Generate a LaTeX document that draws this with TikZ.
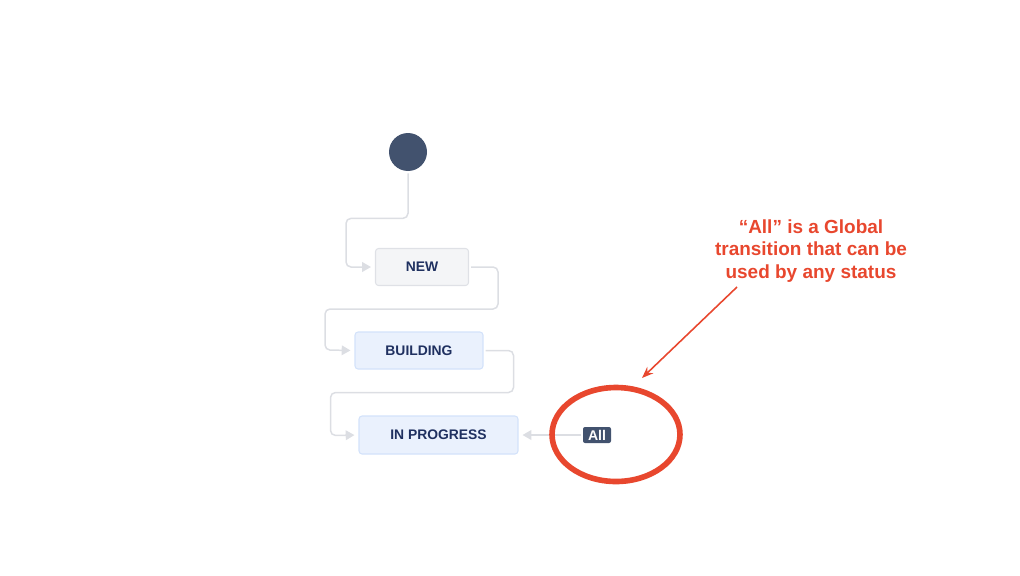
\documentclass[tikz,border=0pt]{standalone}
\usepackage{fontspec}
\setmainfont{Liberation Sans}
\usetikzlibrary{arrows.meta, shapes.geometric}
\definecolor{navy}{HTML}{1F3060}
\definecolor{slate}{HTML}{42526E}
\definecolor{wire}{HTML}{DCDEE3}
\definecolor{greyfill}{HTML}{F4F5F7}
\definecolor{greyline}{HTML}{DFE1E6}
\definecolor{bluefill}{HTML}{EAF1FD}
\definecolor{blueline}{HTML}{D3E2FA}
\definecolor{alert}{HTML}{E8472E}

\begin{document}
\begin{tikzpicture}[x=0.02cm, y=-0.02cm,
  status/.style={rectangle, rounded corners=0.06cm, line width=0.6pt,
    minimum height=0.74cm, inner sep=0pt, text=navy,
    font=\fontsize{7.9}{9}\selectfont\bfseries},
  link/.style={draw=wire, line width=0.85pt, rounded corners=0.1cm,
    -{Triangle[length=5pt, width=5.5pt]}, shorten >=0.08cm, shorten <=0.04cm},
  pointer/.style={draw=alert, line width=0.9pt, -{Stealth[length=6.5pt, width=5pt]}}]
  \useasboundingbox (0,0) rectangle (1020,575);
  \node[circle, fill=slate, minimum size=0.76cm, inner sep=0pt] (start) at (408,152) {};
  \node[status, fill=greyfill, draw=greyline, minimum width=1.86cm] (new) at (422,267) {NEW};
  \node[status, fill=bluefill, draw=blueline, minimum width=2.56cm] (building) at (419,350.5) {BUILDING};
  \node[status, fill=bluefill, draw=blueline, minimum width=3.18cm, minimum height=0.76cm] (progress) at (438.5,435) {IN PROGRESS};
  \node[rectangle, rounded corners=0.04cm, fill=slate, text=white, minimum width=0.56cm,
    minimum height=0.32cm, inner sep=0pt, font=\fontsize{8}{9}\selectfont\bfseries] (all) at (597,435) {All};
  \draw[link] (start.south) |- ++(-62,47) |- (new.west);
  \draw[link] (new.east) -| ++(29,42) -| ++(-173,41) -- (building.west);
  \draw[link] (building.east) -| ++(30,42) -| ++(-183,43) -- (progress.west);
  \draw[link] (all.west) -- (progress.east);
  \node[ellipse, draw=alert, line width=3.2pt, minimum width=2.56cm, minimum height=1.88cm] (ring) at (616,434.5) {};
  \node[text=alert, align=center, font=\fontsize{10.8}{12.8}\selectfont\bfseries] (note) at (811,251)
    {“All” is a Global\\transition that can be\\used by any status};
  \coordinate (tail) at (737,287);
  \coordinate (tip) at (642,378);
  \draw[pointer] (tail) -- (tip);
\end{tikzpicture}
\end{document}
